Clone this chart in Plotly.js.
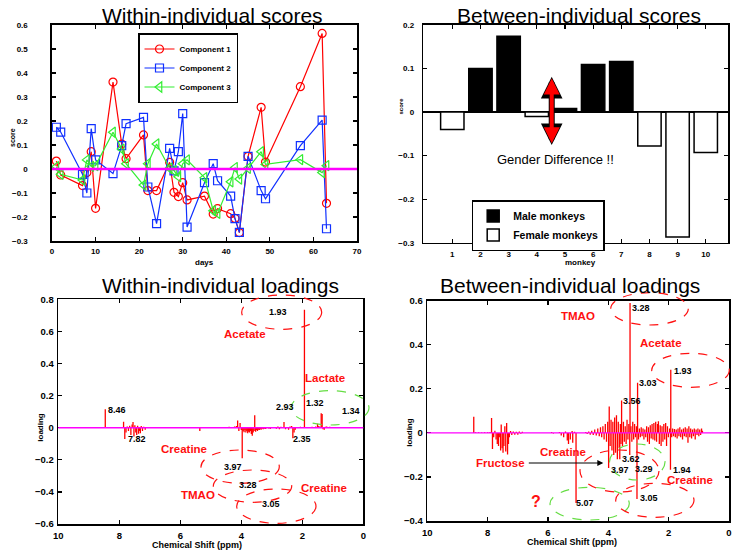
<!DOCTYPE html>
<html><head><meta charset="utf-8">
<script src="https://cdn.plot.ly/plotly-3.0.1.min.js"></script>
<style>html,body{margin:0;padding:0;background:#fff}#chart{width:735px;height:551px}</style>
</head><body><div id="chart"></div>
<script>
// ---------------- DATA ----------------
// Within-individual scores (days)
const days  = [1,2,7,8,9,10,14,16,17,21,22,24,27,28,29,30,31,35,37,38,41,42,43,45,48,49,57,62,63];
const comp1 = [0.033,-0.025,-0.069,-0.015,0.072,-0.164,0.362,0.104,0.043,0.142,-0.09,-0.09,0.028,-0.097,-0.115,-0.057,-0.129,-0.113,-0.188,-0.165,-0.186,-0.206,-0.265,0.053,0.257,0.029,0.343,0.565,-0.143];
const comp2 = [0.174,0.154,-0.022,-0.1,0.168,0.038,-0.019,0.097,0.189,0.215,-0.075,-0.228,0.086,-0.008,0.072,0.231,-0.242,-0.057,0.022,-0.049,-0.113,-0.207,-0.264,0.053,-0.09,-0.124,0.097,0.204,-0.249];
const comp3 = [0.01,-0.022,-0.046,0.038,0.011,0.014,0.153,0.083,0.022,-0.067,0.022,0.104,0.003,-0.007,-0.032,0.022,0.038,-0.036,-0.174,-0.185,-0.053,0.006,-0.042,0.003,0.072,0.019,0.039,-0.015,0.014];
const componentNames = ['Component 1','Component 2','Component 3'];

// Between-individual scores (monkeys)
const monkeys = [1,2,3,4,5,6,7,8,9,10];
const betweenScores = [-0.04,0.1,0.174,-0.01,0.008,0.109,0.116,-0.078,-0.287,-0.093];
const sex = ['F','M','M','F','M','M','M','F','F','F'];

// Within-individual loadings: [chemical shift (ppm), loading]
const withinLoadings = [
 [9.15,0.004],[9.05,0.003],[8.95,0.004],[8.85,0.003],[8.75,0.004],[8.65,0.003],[8.55,0.005],[8.46,0.115],
 [8.35,0.003],[8.25,0.004],[8.15,0.003],[8.05,0.004],[7.95,0.005],[7.86,0.037],[7.82,-0.07],[7.78,-0.03],
 [7.74,0.008],[7.7,-0.02],[7.66,0.012],[7.62,-0.045],[7.58,0.02],[7.55,0.036],[7.52,-0.055],[7.49,0.015],
 [7.46,-0.03],[7.43,-0.045],[7.4,0.012],[7.37,-0.038],[7.34,-0.02],[7.31,-0.035],[7.28,0.01],[7.24,-0.02],
 [7.2,0.006],[7.15,-0.012],[7.1,0.005],[7.0,0.004],[6.9,0.003],[6.8,0.004],[6.7,0.003],[6.6,0.004],
 [6.5,0.003],[6.4,0.004],[6.3,0.003],[6.2,0.004],[6.1,0.003],[6.0,0.003],[5.85,0.003],[5.75,0.004],
 [5.65,0.003],[5.55,0.004],[5.45,0.003],[5.36,-0.02],[5.25,0.003],[5.15,0.004],[5.05,0.003],[4.7,0.004],
 [4.6,0.005],[4.5,0.004],[4.4,0.006],[4.3,0.005],[4.22,0.008],[4.16,0.01],[4.12,0.045],[4.08,-0.02],
 [4.04,0.03],[4.0,-0.015],[3.97,-0.19],[3.94,-0.02],[3.91,-0.028],[3.88,-0.015],[3.85,-0.03],[3.82,-0.02],
 [3.79,-0.035],[3.76,-0.025],[3.73,-0.03],[3.7,-0.02],[3.67,-0.04],[3.64,-0.05],[3.61,-0.03],[3.58,-0.02],
 [3.56,0.078],[3.53,-0.025],[3.5,-0.015],[3.47,-0.02],[3.44,-0.012],[3.41,-0.015],[3.38,-0.01],[3.35,-0.012],
 [3.32,-0.008],[3.28,-0.01],[3.24,-0.006],[3.2,-0.008],[3.15,0.005],[3.1,-0.005],[3.05,-0.008],[3.0,0.004],
 [2.95,0.004],[2.9,0.005],[2.85,-0.006],[2.8,0.008],[2.75,-0.01],[2.7,0.006],[2.65,0.005],[2.6,0.035],
 [2.55,-0.01],[2.5,0.005],[2.45,-0.012],[2.4,0.008],[2.35,0.01],[2.31,-0.065],[2.27,-0.03],[2.23,-0.012],
 [2.18,0.005],[2.12,0.004],[2.06,0.006],[2.0,0.004],[1.93,0.735],[1.86,0.004],[1.8,0.005],[1.74,0.004],
 [1.68,0.006],[1.62,0.005],[1.56,0.008],[1.5,0.025],[1.46,0.01],[1.42,0.006],[1.38,0.09],[1.35,0.085],
 [1.32,-0.01],[1.28,-0.012],[1.24,0.006],[1.2,0.008],[1.15,0.005],[1.1,0.006],[1.05,0.004],[1.0,0.005],
 [0.95,0.004],[0.9,0.003]
];

// Between-individual loadings: [chemical shift (ppm), loading]
const betweenLoadings = [
 [8.46,0.073],[8.4,0.003],[8.3,0.003],[8.2,0.002],[8.1,0.003],[8.0,0.003],[7.92,0.004],[7.87,0.068],
 [7.84,-0.073],[7.8,-0.02],[7.76,0.01],[7.72,-0.03],[7.68,-0.05],[7.64,-0.06],[7.6,-0.02],[7.57,-0.08],
 [7.55,0.038],[7.52,-0.07],[7.49,-0.09],[7.46,-0.06],[7.43,0.03],[7.4,-0.085],[7.37,0.045],[7.34,-0.098],
 [7.31,-0.05],[7.28,-0.02],[7.24,0.008],[7.2,-0.01],[7.15,0.006],[7.1,-0.008],[7.05,0.005],[7.0,-0.008],
 [6.95,0.006],[6.9,-0.004],[6.85,0.005],
 [5.88,0.004],[5.82,-0.003],[5.62,0.004],[5.56,-0.012],[5.48,-0.02],[5.42,0.006],[5.36,-0.035],[5.32,-0.05],
 [5.26,-0.03],[5.2,0.008],[5.18,-0.045],[5.12,0.005],[5.07,-0.318],
 [4.75,0.004],[4.7,-0.005],[4.65,0.006],[4.6,-0.008],
 [4.55,0.01],[4.5,-0.01],[4.45,0.015],[4.4,-0.012],[4.35,0.02],[4.3,-0.015],[4.26,0.025],[4.22,-0.02],
 [4.18,0.03],[4.14,-0.03],[4.1,0.04],[4.06,-0.04],[4.02,0.05],[3.99,-0.159],[3.97,0.12],[3.94,-0.06],
 [3.91,0.06],[3.88,-0.08],[3.85,0.05],[3.82,-0.1],[3.79,0.07],[3.76,-0.09],[3.73,0.08],[3.7,-0.12],
 [3.67,0.05],[3.64,-0.07],[3.62,-0.12],[3.6,0.04],[3.58,-0.05],[3.56,0.147],[3.53,-0.06],[3.5,0.05],
 [3.47,-0.04],[3.44,0.03],[3.41,-0.05],[3.38,0.06],[3.35,-0.03],[3.32,0.04],[3.29,-0.1],[3.28,0.59],
 [3.25,0.03],[3.22,-0.04],[3.19,0.05],[3.16,-0.03],[3.13,0.04],[3.1,-0.02],[3.07,0.03],[3.05,-0.3],
 [3.03,0.227],[3.0,-0.03],[2.97,0.02],[2.94,-0.02],[2.91,0.025],[2.88,-0.015],[2.85,0.02],[2.82,-0.03],
 [2.79,0.015],[2.76,-0.02],[2.73,0.03],[2.7,-0.04],[2.67,0.025],[2.64,-0.05],[2.61,0.035],[2.58,-0.025],
 [2.55,0.04],[2.52,-0.03],[2.49,0.045],[2.46,-0.035],[2.43,0.05],[2.4,-0.04],[2.37,0.04],[2.34,0.053],
 [2.31,-0.05],[2.28,0.035],[2.25,-0.06],[2.22,0.03],[2.19,-0.04],[2.16,0.04],[2.13,-0.03],[2.1,0.045],
 [2.07,-0.06],[2.04,0.03],[2.01,-0.02],[1.97,0.02],[1.94,-0.167],[1.93,0.287],[1.9,-0.02],[1.87,0.02],
 [1.84,-0.015],[1.81,0.018],[1.78,-0.02],[1.75,0.015],[1.72,-0.025],[1.69,0.02],[1.66,-0.015],[1.63,0.025],
 [1.6,-0.02],[1.57,0.015],[1.54,-0.03],[1.51,0.02],[1.48,-0.015],[1.45,0.025],[1.42,-0.02],[1.39,0.02],
 [1.36,-0.045],[1.33,0.03],[1.3,-0.02],[1.27,0.02],[1.24,-0.025],[1.21,0.015],[1.18,-0.015],[1.15,0.02],
 [1.12,-0.03],[1.09,0.015],[1.06,-0.01],[1.03,0.02],[1.0,-0.015],[0.97,0.015],[0.94,-0.01],[0.91,0.02],
 [0.88,0.01]
];

// ---------------- HELPERS ----------------
const FONT = 'Liberation Sans, Arial, Helvetica, sans-serif';
const W = 735, H = 551;
const px = x => x / W;
const py = y => 1 - y / H;

function spectrumTrace(pairs, xa, ya) {
  const x = [], y = [];
  pairs.forEach(([p, v]) => { x.push(p, p, null); y.push(0, v, null); });
  return {type:'scatter', mode:'lines', x, y, xaxis:xa, yaxis:ya,
    line:{color:'#ff0000', width:1.3}, showlegend:false, hoverinfo:'skip'};
}

function axis(domain, range, dtick, anchor, extra) {
  return Object.assign({
    domain, range, dtick, tick0:0, anchor, autorange:false,
    showline:true, linecolor:'#000', linewidth:1.6, mirror:'ticks',
    ticks:'inside', ticklen:4, tickwidth:1.2, tickcolor:'#000',
    showgrid:false, zeroline:false, fixedrange:true,
    tickfont:{family:FONT, size:8, weight:'bold', color:'#000'}
  }, extra || {});
}

// ---------------- TRACES ----------------
const compColors = ['#ff0000','#1030ff','#33ee33'];
const compSymbols = ['circle-open','square-open','triangle-left-open'];
const compData = [comp1, comp2, comp3];
const traces = compData.map((vals, i) => ({
  type:'scatter', mode:'lines+markers', x:days, y:vals, xaxis:'x', yaxis:'y',
  name:componentNames[i], legend:'legend',
  line:{color:compColors[i], width:1.2},
  marker:{symbol:compSymbols[i], size:i===2?9:8, color:compColors[i], line:{width:1.2, color:compColors[i]}}
}));

const maleIdx = monkeys.map((m, i) => i).filter(i => sex[i] === 'M');
const femaleIdx = monkeys.map((m, i) => i).filter(i => sex[i] === 'F');
traces.push({
  type:'bar', x:maleIdx.map(i => monkeys[i]), y:maleIdx.map(i => betweenScores[i]),
  xaxis:'x2', yaxis:'y2', width:0.83, name:'Male monkeys', legend:'legend2',
  marker:{color:'#000', line:{color:'#000', width:1.5}}
});
traces.push({
  type:'bar', x:femaleIdx.map(i => monkeys[i]), y:femaleIdx.map(i => betweenScores[i]),
  xaxis:'x2', yaxis:'y2', width:0.83, name:'Female monkeys', legend:'legend2',
  marker:{color:'#fff', line:{color:'#000', width:1.5}}
});

traces.push(spectrumTrace(withinLoadings, 'x3', 'y3'));
traces.push(spectrumTrace(betweenLoadings, 'x4', 'y4'));

// ---------------- ANNOTATIONS ----------------
const annotations = [];
function txt(text, x, y, size, opts) {
  annotations.push(Object.assign({
    text, xref:'paper', yref:'paper', x:px(x), y:py(y), showarrow:false,
    xanchor:'center', yanchor:'middle',
    font:{family:FONT, size, color:'#000'}
  }, opts || {}));
}
function btxt(text, x, y, size, color, extra) {
  txt(text, x, y, size, Object.assign({font:{family:FONT, size, color:color||'#000', weight:'bold'}}, extra||{}));
}

// titles
txt('Within-individual scores', 213, 15, 21);
txt('Between-individual scores', 579, 15, 21);
txt('Within-individual loadings', 220, 285, 21);
txt('Between-individual loadings', 570, 285, 21);
// axis titles
btxt('score', 12.5, 137.5, 7, '#000', {textangle:-90});
btxt('days', 205, 262, 8);
btxt('score', 400.5, 106, 6, '#000', {textangle:-90});
btxt('monkey', 580, 262, 8);
btxt('loading', 39.7, 427, 8, '#000', {textangle:-90});
btxt('loading', 409.3, 432.5, 8, '#000', {textangle:-90});
btxt('Chemical Shift (ppm)', 196.7, 545, 9);
btxt('Chemical Shift (ppm)', 571.7, 541.7, 9);
// gender difference
txt('Gender Difference !!', 555.7, 159.3, 13);
annotations.push({xref:'x2', yref:'y2', x:4.53, y:0.081, axref:'x2', ayref:'y2', ax:4.53, ay:-0.079,
  text:'', showarrow:true, arrowhead:2, startarrowhead:2, arrowside:'end+start',
  arrowsize:0.72, startarrowsize:0.72, arrowwidth:6, arrowcolor:'#000'});
annotations.push({xref:'x2', yref:'y2', x:4.53, y:0.077, axref:'x2', ayref:'y2', ax:4.53, ay:-0.075,
  text:'', showarrow:true, arrowhead:2, startarrowhead:2, arrowside:'end+start',
  arrowsize:0.8, startarrowsize:0.8, arrowwidth:4, arrowcolor:'#ff0000'});

// bottom-left labels
const RED = '#ff1010';
btxt('Acetate', 245, 334.3, 11.5, RED);
btxt('Lactate', 325, 377.7, 11.5, RED);
btxt('Creatine', 184, 449.3, 11.5, RED);
btxt('TMAO', 197.7, 495.3, 11.5, RED);
btxt('Creatine', 324.3, 488.3, 11.5, RED);
[['1.93',278.3,312.3],['8.46',117.3,410],['7.82',136.7,439],['2.93',285,406.7],['1.32',315,403.3],
 ['1.34',351,410.7],['2.35',301.7,439.3],['3.97',233.3,467.3],['3.28',248.3,485],['3.05',270.7,504.3]]
 .forEach(([t,x,y]) => btxt(t, x, y, 9));

// bottom-right labels
btxt('TMAO', 578.3, 316, 11.5, RED);
btxt('Acetate', 660.7, 343.3, 11.5, RED);
btxt('Creatine', 562.7, 451.7, 11.5, RED);
btxt('Fructose', 500.7, 463.3, 11.5, RED);
btxt('Creatine', 689.5, 480, 11.5, RED);
btxt('?', 536, 501, 16, RED);
[['3.28',640.7,307.7],['1.93',683.3,371],['3.03',648.3,383.3],['3.56',632.3,400.8],['3.62',630.5,458.5],
 ['3.97',620,469.5],['3.29',643.5,469],['1.94',681.7,469.5],['5.07',585,503.3],['3.05',649,498.3]]
 .forEach(([t,x,y]) => btxt(t, x, y, 9));
// fructose arrow
annotations.push({xref:'paper', yref:'paper', x:px(603.3), y:py(463), ax:-76, ay:0,
  text:'', showarrow:true, arrowhead:2, arrowsize:1, arrowwidth:1.2, arrowcolor:'#000'});

// ---------------- SHAPES ----------------
const shapes = [];
function ellipse(x0, x1, y0, y1, color) {
  shapes.push({type:'circle', xref:'paper', yref:'paper', x0:px(x0), x1:px(x1), y0:py(y1), y1:py(y0),
    line:{color, width:1.2, dash:'dash'}, layer:'above'});
}
const GREEN = '#66dd44';
ellipse(241.7, 321.7, 295, 329.3, RED);
ellipse(291, 369, 390.7, 425, GREEN);
ellipse(201, 279.3, 450, 483.3, RED);
ellipse(213.3, 291.7, 470, 502.3, RED);
ellipse(236.7, 316, 489, 523.3, RED);
ellipse(610.7, 688.3, 292.7, 325, RED);
ellipse(651.7, 729.3, 353.3, 387.3, RED);
ellipse(609.5, 665, 444, 480, GREEN);
ellipse(580, 659, 450, 492, RED);
ellipse(550, 629.3, 487.3, 520, GREEN);
ellipse(615.7, 694, 483.3, 517.3, RED);
// zero lines
shapes.push({type:'line', xref:'x domain', x0:0, x1:1, yref:'y', y0:0, y1:0, line:{color:'#ff00ff', width:2.5}, layer:'above'});
shapes.push({type:'line', xref:'x3 domain', x0:0, x1:1, yref:'y3', y0:0, y1:0, line:{color:'#ff00ff', width:1.5}, layer:'above'});
shapes.push({type:'line', xref:'x4 domain', x0:0, x1:1, yref:'y4', y0:0, y1:0, line:{color:'#ff00ff', width:1.2}, layer:'above'});

// ---------------- LAYOUT ----------------
const bigTick = {family:FONT, size:9.5, weight:'bold', color:'#000'};
const layout = {
  width:W, height:H, margin:{l:0, r:0, t:0, b:0},
  paper_bgcolor:'#fff', plot_bgcolor:'#fff', barmode:'overlay',
  font:{family:FONT},
  xaxis: axis([px(52), px(357)], [0,70], 10, 'y', {ticklabelstandoff:2}),
  yaxis: axis([py(241), py(25)], [-0.3,0.6], 0.1, 'x', {ticklabelstandoff:21}),
  xaxis2: axis([px(423.3), px(728.3)], [-0.03,10.8], 1, 'y2', {tickvals:monkeys, ticklabelstandoff:3}),
  yaxis2: axis([py(242.7), py(25)], [-0.3,0.2], 0.1, 'x2', {ticklabelstandoff:6, zeroline:true, zerolinecolor:'#000', zerolinewidth:1.5}),
  xaxis3: axis([px(58.3), px(363.3)], [10,0], 2, 'y3', {tickfont:bigTick, ticklabelstandoff:2}),
  yaxis3: axis([py(524), py(299.3)], [-0.6,0.8], 0.2, 'x3', {tickfont:bigTick, ticklabelstandoff:1}),
  xaxis4: axis([px(427.3), px(729)], [10,0], 2, 'y4', {tickfont:bigTick, ticklabelstandoff:2}),
  yaxis4: axis([py(521), py(300.7)], [-0.4,0.6], 0.2, 'x4', {tickfont:bigTick, ticklabelstandoff:1}),
  legend: {x:px(138), y:py(33), xanchor:'left', yanchor:'top', bordercolor:'#000', borderwidth:1.5,
    bgcolor:'#fff', font:{family:FONT, size:8, weight:'bold', color:'#000'}, tracegroupgap:0, itemwidth:30},
  legend2: {x:px(471.7), y:py(200), xanchor:'left', yanchor:'top', bordercolor:'#000', borderwidth:1.5,
    bgcolor:'#fff', font:{family:FONT, size:10.5, weight:'bold', color:'#000'}, tracegroupgap:0, itemwidth:30},
  annotations, shapes
};

Plotly.newPlot('chart', traces, layout, {staticPlot:true, displayModeBar:false});
</script>
</body></html>
